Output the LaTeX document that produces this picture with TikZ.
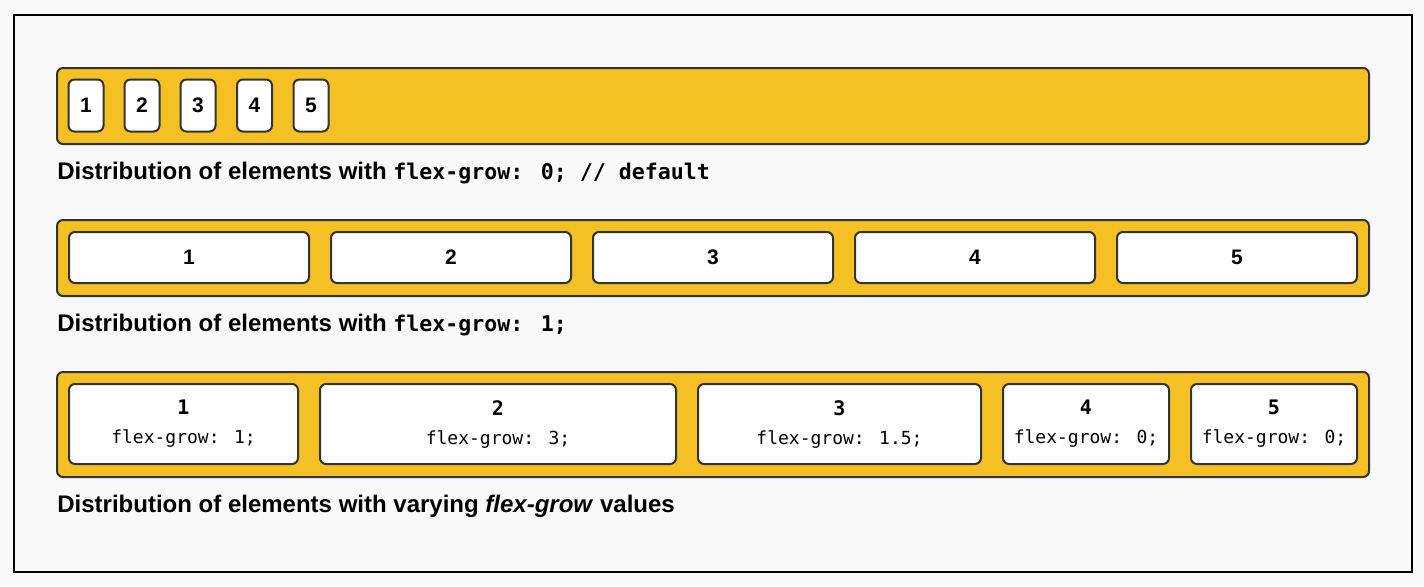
\documentclass[tikz,border=0pt]{standalone}
\usepackage{fontspec}
\usepackage{xcolor}
\usetikzlibrary{positioning}
\setmainfont{Liberation Sans}
\newfontfamily\codefont{DejaVu Sans Mono}
\definecolor{pagebg}{RGB}{248,249,250}
\definecolor{flexfill}{RGB}{244,192,36}
\definecolor{edgegray}{RGB}{51,51,51}

\begin{document}
\begin{tikzpicture}[
    x=0.5pt, y=-0.5pt,
    container/.style={draw=edgegray, line width=1pt, rounded corners=3pt, fill=flexfill},
    item/.style={draw=edgegray, line width=1pt, rounded corners=3pt, fill=white,
                 inner sep=0pt, font=\fontsize{10.5}{12}\selectfont\bfseries},
    wideitem/.style={item, minimum height=40pt, align=center,
                 font=\fontsize{9}{14.5}\selectfont\codefont},
    caption/.style={anchor=west, inner sep=0pt, font=\fontsize{12}{14}\selectfont\bfseries}
]
    % page and frame
    \fill[pagebg] (0,0) rectangle (1424,586);
    \useasboundingbox (0,0) rectangle (1424,586);
    \draw[black, line width=1pt] (14,15) rectangle (1412,572);

    % row 1: flex-grow 0
    \draw[container] (57,68) rectangle (1369,144);
    \node[item, minimum width=17.5pt, minimum height=26pt] (a1) at (86,105.5)  {1};
    \node[item, minimum width=17.5pt, minimum height=26pt] (a2) at (142,105.5) {2};
    \node[item, minimum width=17.5pt, minimum height=26pt] (a3) at (198,105.5) {3};
    \node[item, minimum width=17.5pt, minimum height=26pt] (a4) at (254.5,105.5) {4};
    \node[item, minimum width=17.5pt, minimum height=26pt] (a5) at (311,105.5) {5};
    \node[caption] (capa) at (57,173.5)
        {Distribution of elements with {\codefont\fontsize{10.8}{14}\selectfont flex-grow: 0; // default}};

    % row 2: flex-grow 1
    \draw[container] (57,220) rectangle (1369,296);
    \node[item, minimum width=120pt, minimum height=25.5pt] (b1) at (189,257.5)  {1};
    \node[item, minimum width=120pt, minimum height=25.5pt] (b2) at (451,257.5)  {2};
    \node[item, minimum width=120pt, minimum height=25.5pt] (b3) at (713,257.5)  {3};
    \node[item, minimum width=120pt, minimum height=25.5pt] (b4) at (975,257.5)  {4};
    \node[item, minimum width=120pt, minimum height=25.5pt] (b5) at (1237,257.5) {5};
    \node[caption] (capb) at (57,325.5)
        {Distribution of elements with {\codefont\fontsize{10.8}{14}\selectfont flex-grow: 1;}};

    % row 3: varying flex-grow
    \draw[container] (57,372) rectangle (1369,477);
    \node[wideitem, minimum width=114.5pt] (c1) at (183.5,424)
        {{\fontsize{10}{12}\selectfont\bfseries 1}\\flex-grow: 1;};
    \node[wideitem, minimum width=178pt] (c2) at (498,424)
        {{\fontsize{10}{12}\selectfont\bfseries 2}\\flex-grow: 3;};
    \node[wideitem, minimum width=141.5pt] (c3) at (839.5,424)
        {{\fontsize{10}{12}\selectfont\bfseries 3}\\flex-grow: 1.5;};
    \node[wideitem, minimum width=83pt] (c4) at (1086,424)
        {{\fontsize{10}{12}\selectfont\bfseries 4}\\flex-grow: 0;};
    \node[wideitem, minimum width=83pt] (c5) at (1274,424)
        {{\fontsize{10}{12}\selectfont\bfseries 5}\\flex-grow: 0;};
    \node[caption] (capc) at (57,506.5)
        {Distribution of elements with varying \textit{flex-grow} values};
\end{tikzpicture}
\end{document}
